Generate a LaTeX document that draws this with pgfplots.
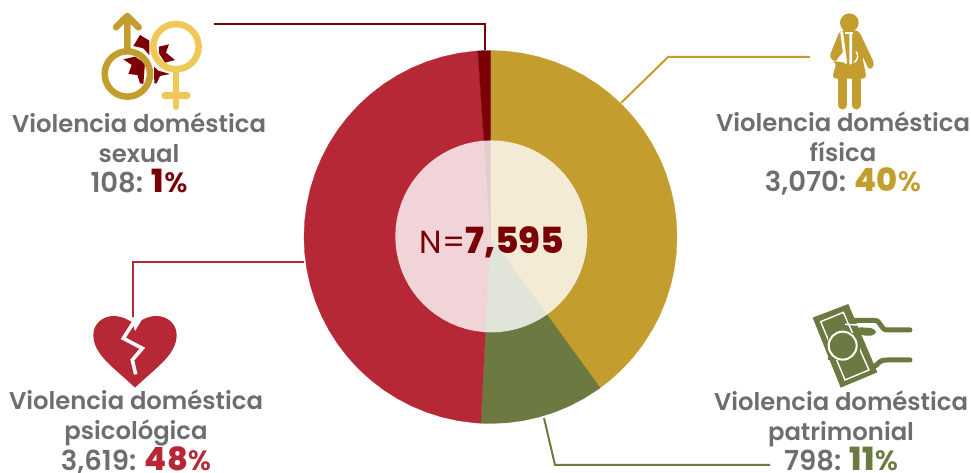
\documentclass[border=0pt]{standalone}
\usepackage{pgfplots}
\pgfplotsset{compat=1.18}
\usepackage{fontspec}
\setmainfont{Poppins}
\newfontfamily\semi{Poppins SemiBold}
\newfontfamily\blk{Poppins ExtraBold}
\definecolor{cgold}{HTML}{C39E2E}
\definecolor{colive}{HTML}{6C7A41}
\definecolor{cred}{HTML}{B72837}
\definecolor{cdark}{HTML}{7A0005}
\definecolor{cgray}{HTML}{6D6E71}
\definecolor{clight}{HTML}{EFC958}
\newcommand{\lab}[5]{\node[text=cgray,align=center,font=\semi\fontsize{24.3}{30}\selectfont,anchor=center,inner sep=0pt] at (#1,#2) {Violencia doméstica\\#3\\{\fontsize{27.5}{30}\selectfont #4: }{\color{#5}\blk\fontsize{32}{30}\selectfont\pct}};}
\begin{document}
\begin{tikzpicture}
\path[use as bounding box] (0,0) rectangle (971pt,473pt);
\begin{axis}[at={(0,0)},anchor=south west,scale only axis,width=971pt,height=473pt,
  hide axis,clip=false,xmin=-490.5,xmax=480.5,ymin=-236,ymax=237]
% física 3,070
\addplot[fill=cgold,draw=cgold,line width=0.3pt,data cs=polar] coordinates {(0,0)(90,186.5)(85,186.5)(80,186.5)(75,186.5)(70,186.5)(65,186.5)(60,186.5)(55,186.5)(50,186.5)(45,186.5)(40,186.5)(35,186.5)(30,186.5)(25,186.5)(20,186.5)(15,186.5)(10,186.5)(5,186.5)(0,186.5)(-5,186.5)(-10,186.5)(-15,186.5)(-20,186.5)(-25,186.5)(-30,186.5)(-35,186.5)(-40,186.5)(-45,186.5)(-50,186.5)(-54,186.5)} --cycle;
% patrimonial 798
\addplot[fill=colive,draw=colive,line width=0.3pt,data cs=polar] coordinates {(0,0)(-54,186.5)(-55,186.5)(-60,186.5)(-65,186.5)(-70,186.5)(-75,186.5)(-80,186.5)(-85,186.5)(-90,186.5)(-93,186.5)} --cycle;
% psicológica 3,619
\addplot[fill=cred,draw=cred,line width=0.3pt,data cs=polar] coordinates {(0,0)(267,186.5)(265,186.5)(260,186.5)(255,186.5)(250,186.5)(245,186.5)(240,186.5)(235,186.5)(230,186.5)(225,186.5)(220,186.5)(215,186.5)(210,186.5)(205,186.5)(200,186.5)(195,186.5)(190,186.5)(185,186.5)(180,186.5)(175,186.5)(170,186.5)(165,186.5)(160,186.5)(155,186.5)(150,186.5)(145,186.5)(140,186.5)(135,186.5)(130,186.5)(125,186.5)(120,186.5)(115,186.5)(110,186.5)(105,186.5)(100,186.5)(95,186.5)(93.9,186.5)} --cycle;
% sexual 108
\addplot[fill=cdark,draw=cdark,line width=0.3pt,data cs=polar] coordinates {(0,0)(93.9,186.5)(92,186.5)(90,186.5)} --cycle;
% inner disc
\addplot[fill=white,fill opacity=0.8,draw=none,data cs=polar,xshift=0.8pt,yshift=0.6pt] coordinates {(0,96)(5,96)(10,96)(15,96)(20,96)(25,96)(30,96)(35,96)(40,96)(45,96)(50,96)(55,96)(60,96)(65,96)(70,96)(75,96)(80,96)(85,96)(90,96)(95,96)(100,96)(105,96)(110,96)(115,96)(120,96)(125,96)(130,96)(135,96)(140,96)(145,96)(150,96)(155,96)(160,96)(165,96)(170,96)(175,96)(180,96)(185,96)(190,96)(195,96)(200,96)(205,96)(210,96)(215,96)(220,96)(225,96)(230,96)(235,96)(240,96)(245,96)(250,96)(255,96)(260,96)(265,96)(270,96)(275,96)(280,96)(285,96)(290,96)(295,96)(300,96)(305,96)(310,96)(315,96)(320,96)(325,96)(330,96)(335,96)(340,96)(345,96)(350,96)(355,96)} --cycle;
\end{axis}
\begin{scope}[x=1pt,y=-1pt,yshift=473pt]
% leaders
\draw[cdark,line width=2.2pt] (214,24)--(485,24)--(485,50);
\draw[cgold,line width=2pt] (810,57)--(668,57)--(621,103);
\draw[colive,line width=2pt] (544,418)--(555,465)--(770,465);
\draw[cred,line width=2pt] (304,262)--(133,262)--(133,318);
% centre text
\node[text=cdark,anchor=center] at (492,242) {\fontsize{32}{36}\selectfont N=\blk\fontsize{36}{36}\selectfont 7,595};
% labels
\def\pct{1{\semi\fontsize{28}{30}\selectfont\%}}
\lab{139}{153}{sexual}{108}{cdark}
\def\pct{40{\semi\fontsize{28}{30}\selectfont\%}}
\lab{843}{153}{física}{3,070}{cgold}
\def\pct{11{\semi\fontsize{28}{30}\selectfont\%}}
\lab{841}{431}{patrimonial}{798}{colive}
\def\pct{48{\semi\fontsize{28}{30}\selectfont\%}}
\lab{136}{432}{psicológica}{3,619}{cred}
% sexual icon
\begin{scope}[shift={(90,0)},x=0.3333pt,y=-0.3333pt]
\fill[cdark] (100,178)--(135,170)--(165,190)--(160,252)--(150,250)--(142,225)--(115,222)--(125,195)--cycle;
\fill[cdark] (130,138)--(150,105)--(178,122)--(178,165)--(160,145)--cycle;
\fill[cdark] (207,140)--(237,133)--(228,158)--(255,180)--(225,188)--(207,160)--cycle;
\fill[cdark] (192,200)--(205,212)--(240,222)--(210,228)--(200,250)--(193,250)--cycle;
\draw[cgold,line width=6.5pt] (112,222) circle[radius=68];
\draw[cgold,line width=6.5pt,line cap=round,line join=round] (112,150)--(112,50) (78,82)--(112,48)--(146,82);
\draw[clight,line width=6.5pt] (258,140) circle[radius=68];
\draw[clight,line width=6.5pt,line cap=round] (258,210)--(258,320) (224,287)--(292,287);
\end{scope}
% woman icon
\begin{scope}[shift={(790,0)},x=0.3333pt,y=-0.3333pt]
\fill[cgold] (178,68) circle[radius=28];
\fill[cgold,rounded corners=4pt] (150,91)--(206,91)--(255,195)--(238,212)--(216,165)--(230,236)--(126,236)--(140,186)--(135,186)--(117,172)--cycle;
\draw[cgold,line width=9pt,line cap=round] (158,236)--(158,315) (198,236)--(198,315);
\fill[white] (137,184)--(160,155)--(168,188)--cycle;
\draw[white,line width=2.8pt,line cap=round] (155,97)--(167,188) (182,100)--(182,190);
\fill[white] (165,96) rectangle (190,103);
\draw[white,line width=1.4pt] (198,155) .. controls (206,165) and (205,178) .. (192,188);
\end{scope}
% money icon
\begin{scope}[shift={(800,295)},x=0.3333pt,y=-0.3333pt]
\fill[colive] (38,68)--(145,27)--(232,232)--(122,278)--cycle;
\draw[white,line width=1.4pt] (62,80)--(130,52)--(207,225)--(135,255)--cycle;
\fill[colive] (85,115)--(180,115)--(180,195)--(85,195)--cycle;
\draw[white,line width=2pt,fill=colive] (128,152) circle[radius=42];
\draw[colive,line width=5pt,line cap=round] (150,76)--(222,76) .. controls (245,76) and (240,105) .. (262,105)--(330,105);
\fill[colive,rounded corners=5pt] (165,96)--(228,100)--(228,122)--(180,122)--cycle;
\draw[white,line width=1.6pt] (135,88)--(220,92);
\draw[colive,line width=5pt,line cap=round] (217,216) .. controls (240,210) and (230,195) .. (262,195)--(330,195);
\end{scope}
% heart icon
\begin{scope}[shift={(85,305)},x=0.3333pt,y=-0.3333pt]
\fill[cred] (150,248) .. controls (90,190) and (25,150) .. (25,90) .. controls (25,55) and (55,33) .. (85,33) .. controls (110,33) and (135,45) .. (150,60) .. controls (165,45) and (190,33) .. (215,33) .. controls (245,33) and (275,55) .. (275,90) .. controls (275,150) and (210,190) .. (150,248) -- cycle;
\draw[white,line width=3.6pt,line join=miter] (160,30)--(115,100)--(172,130)--(142,165)--(152,208);
\fill[white] (138,38)--(178,32)--(150,78)--cycle;
\draw[cred,line width=2pt] (144,0)--(144,34);
\end{scope}
\end{scope}
\end{tikzpicture}
\end{document}
